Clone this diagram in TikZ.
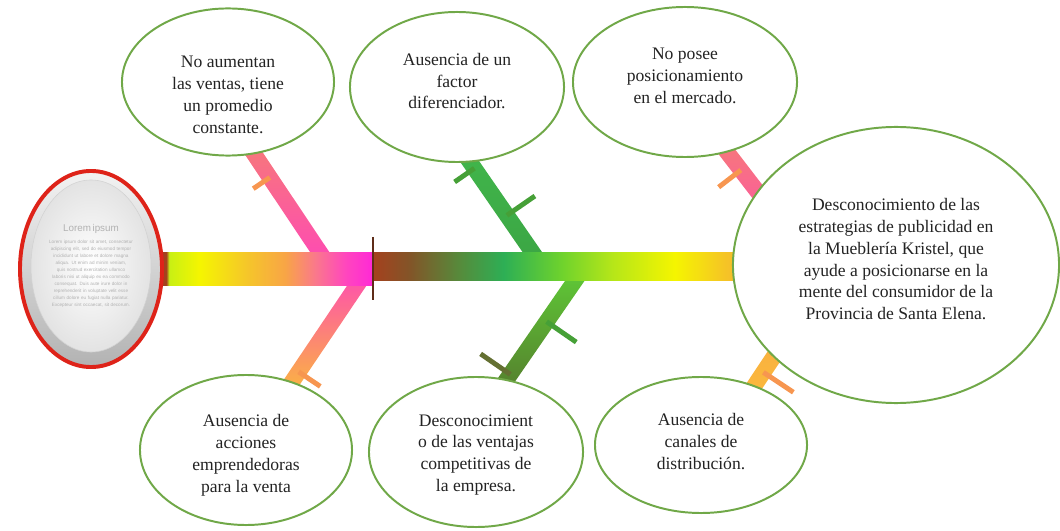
\documentclass[tikz,border=0pt]{standalone}
\usepackage{fontspec}
\setmainfont{Liberation Serif}
\newfontfamily\loremfont{Liberation Sans}
\usepackage{tikz}
\usetikzlibrary{shapes,calc,backgrounds}
\usepackage{xcolor}
\definecolor{fbgreen}{RGB}{112,168,72}
\definecolor{fbtext}{RGB}{35,35,35}
\definecolor{fbred}{RGB}{222,35,25}
\definecolor{fbsep}{RGB}{95,45,25}
\definecolor{sprust}{RGB}{165,65,30}
\definecolor{spbrown}{RGB}{130,85,40}
\definecolor{spolive}{RGB}{85,140,60}
\definecolor{spgreen}{RGB}{45,175,85}
\definecolor{splime}{RGB}{110,210,45}
\definecolor{spyellowgreen}{RGB}{180,230,25}
\definecolor{spyellow}{RGB}{245,245,0}
\definecolor{sporange}{RGB}{245,180,50}
\definecolor{splemon}{RGB}{200,240,20}
\definecolor{spamber}{RGB}{245,200,40}
\definecolor{spapricot}{RGB}{248,165,70}
\definecolor{spsalmon}{RGB}{250,120,140}
\definecolor{sppink}{RGB}{255,70,190}
\definecolor{spmagenta}{RGB}{255,40,215}
\definecolor{bonesalmon}{RGB}{246,122,120}
\definecolor{bonepink}{RGB}{255,70,185}
\definecolor{boneorange}{RGB}{250,185,60}
\definecolor{bonegreen}{RGB}{65,182,75}
\definecolor{bonelime}{RGB}{95,205,55}
\definecolor{boneolive}{RGB}{85,125,45}
\definecolor{tickorange}{RGB}{247,150,80}
\definecolor{tickgreen}{RGB}{70,160,55}
\definecolor{tickolive}{RGB}{100,112,50}
\pgfdeclarehorizontalshading{spineleft}{100bp}{color(0bp)=(sprust); color(25bp)=(sprust); color(26bp)=(sprust); color(26.7bp)=(splemon); color(33.9bp)=(spyellow); color(44.6bp)=(spamber); color(54.2bp)=(spapricot); color(61.4bp)=(spsalmon); color(68.5bp)=(sppink); color(75bp)=(spmagenta); color(100bp)=(spmagenta)}
\pgfdeclarehorizontalshading{spineright}{100bp}{color(0bp)=(sprust); color(25bp)=(sprust); color(30bp)=(spbrown); color(36.9bp)=(spolive); color(42.7bp)=(spgreen); color(50.5bp)=(splime); color(57.3bp)=(spyellowgreen); color(65.9bp)=(spyellow); color(75bp)=(sporange); color(100bp)=(sporange)}
\tikzstyle{cause} = [ellipse, draw=fbgreen, line width=1.4pt, fill=white, text=fbtext, align=center, inner sep=0pt, font=\fontsize{12.5pt}{15.6pt}\selectfont]
\tikzstyle{headring} = [ellipse, minimum width=3.55cm, minimum height=4.9cm, draw=fbred, line width=2.8pt, top color=gray!10, bottom color=gray!60]
\tikzstyle{headdisc} = [ellipse, minimum width=3cm, minimum height=4.3cm, inner sep=0pt, draw=gray!35, inner color=white, outer color=gray!22, text=gray!60, text width=2.1cm, align=center, font=\loremfont\fontsize{3.3pt}{5pt}\selectfont]
\tikzstyle{tick} = [line width=3.5pt]

\begin{document}
\begin{tikzpicture}[x=0.025cm, y=-0.025cm]
\useasboundingbox (0,0) rectangle (1060,531);

% Head
\node (head) [headring] at (91,269) {};
\node (lorem) [headdisc] at (91,266) {{\fontsize{7pt}{5pt}\selectfont Lorem ipsum}\\[3pt]
  Lorem ipsum dolor sit amet, consectetur adipiscing elit, sed do eiusmod tempor incididunt ut labore et dolore magna aliqua. Ut enim ad minim veniam, quis nostrud exercitation ullamco laboris nisi ut aliquip ex ea commodo consequat. Duis aute irure dolor in reprehenderit in voluptate velit esse cillum dolore eu fugiat nulla pariatur. Excepteur sint occaecat, sit decorum.};

% Causes
\node (c1) [cause, minimum width=5.3cm, minimum height=3.65cm] at (228,82) {\rule{0pt}{27pt}No aumentan\\las ventas, tiene\\un promedio\\constante.};
\node (c2) [cause, minimum width=5.35cm, minimum height=3.75cm] at (457,87) {Ausencia de un\\factor\\diferenciador.\rule[-8.6pt]{0pt}{8.6pt}};
\node (c3) [cause, minimum width=5.6cm, minimum height=3.75cm] at (685,82) {No posee\\posicionamiento\\en el mercado.\rule[-8.6pt]{0pt}{8.6pt}};
\node (c5) [cause, minimum width=5.3cm, minimum height=3.75cm] at (246,450) {\rule{0pt}{16.3pt}Ausencia de\\acciones\\emprendedoras\\para la venta};
\node (c6) [cause, minimum width=5.35cm, minimum height=3.75cm] at (476,452) {\rule{0pt}{12.5pt}Desconocimient\\o de las ventajas\\competitivas de\\la empresa.};
\node (c7) [cause, minimum width=5.3cm, minimum height=3.4cm] at (701,445) {Ausencia de\\canales de\\distribuci\'on.\rule[-5.7pt]{0pt}{5.7pt}};

% Effect
\node (effect) [cause, minimum width=8.15cm, minimum height=6.9cm] at (896,265) {Desconocimiento de las\\estrategias de publicidad en\\la Muebler\'ia Kristel, que\\ayude a posicionarse en la\\mente del consumidor de la\\Provincia de Santa Elena.\rule[-8.6pt]{0pt}{8.6pt}};

% Joints on the spine
\coordinate (tail) at (373,269);
\coordinate (j1) at (331,269);
\coordinate (j2) at (368,269);
\coordinate (j3) at (544,269);
\coordinate (j4) at (583,269);
\coordinate (j5) at (817,269);
\coordinate (j6) at (832,269);
\coordinate (t1) at ($(c1.-70)!-0.3cm!(j1)$);
\coordinate (t2) at ($(c5.56)!-0.3cm!(j2)$);
\coordinate (t3) at ($(c2.-80)!-0.3cm!(j3)$);
\coordinate (t4) at ($(c6.67)!-0.3cm!(j4)$);
\coordinate (t5) at ($(c3.-59)!-0.3cm!(j5)$);
\coordinate (t6) at ($(c7.48)!-0.3cm!(j6)$);

\begin{scope}[on background layer]
% Bones
\shade[top color=bonesalmon, bottom color=bonepink] ($(t1)!0.2cm!90:(j1)$) -- ($(t1)!0.2cm!-90:(j1)$) -- ($(j1)!0.2cm!90:(t1)$) -- ($(j1)!0.2cm!-90:(t1)$) -- cycle;
\shade[top color=bonepink, bottom color=boneorange] ($(t2)!0.2cm!90:(j2)$) -- ($(t2)!0.2cm!-90:(j2)$) -- ($(j2)!0.2cm!90:(t2)$) -- ($(j2)!0.2cm!-90:(t2)$) -- cycle;
\shade[top color=bonegreen, bottom color=bonegreen!90!black] ($(t3)!0.2cm!90:(j3)$) -- ($(t3)!0.2cm!-90:(j3)$) -- ($(j3)!0.2cm!90:(t3)$) -- ($(j3)!0.2cm!-90:(t3)$) -- cycle;
\shade[top color=bonelime, bottom color=boneolive] ($(t4)!0.2cm!90:(j4)$) -- ($(t4)!0.2cm!-90:(j4)$) -- ($(j4)!0.2cm!90:(t4)$) -- ($(j4)!0.2cm!-90:(t4)$) -- cycle;
\shade[top color=bonesalmon, bottom color=bonepink] ($(t5)!0.2cm!90:(j5)$) -- ($(t5)!0.2cm!-90:(j5)$) -- ($(j5)!0.2cm!90:(t5)$) -- ($(j5)!0.2cm!-90:(t5)$) -- cycle;
\shade[top color=spapricot, bottom color=boneorange] ($(t6)!0.2cm!90:(j6)$) -- ($(t6)!0.2cm!-90:(j6)$) -- ($(j6)!0.2cm!90:(t6)$) -- ($(j6)!0.2cm!-90:(t6)$) -- cycle;

% Ticks
\draw[tick, tickorange] ($(j1)!2.75cm!(t1)$) -- ($(j1)!2.75cm!(t1)!0.5cm!90:(t1)$);
\draw[tick, tickorange] ($(j2)!3.1cm!(t2)$) -- ($(j2)!3.1cm!(t2)!0.65cm!90:(t2)$);
\draw[tick, tickgreen] ($(j3)!3.06cm!(t3)$) -- ($(j3)!3.06cm!(t3)!0.6cm!90:(t3)$);
\draw[tick, tickgreen] ($(j3)!1.63cm!(t3)$) -- ($(j3)!1.63cm!(t3)!0.85cm!-90:(t3)$);
\draw[tick, tickgreen] ($(j4)!1.6cm!(t4)$) -- ($(j4)!1.6cm!(t4)!0.9cm!90:(t4)$);
\draw[tick, tickolive] ($(j4)!3.2cm!(t4)$) -- ($(j4)!3.2cm!(t4)!0.9cm!-90:(t4)$);
\draw[tick, tickorange] ($(j5)!3.12cm!(t5)$) -- ($(j5)!3.12cm!(t5)!0.7cm!90:(t5)$);
\draw[tick, tickorange] ($(j6)!3.1cm!(t6)$) -- ($(j6)!3.1cm!(t6)!0.9cm!90:(t6)$);

% Spine
\shade[shading=spineleft] ($(head.east)+(-2,-16)$) rectangle ($(tail)+(0,16)$);
\shade[shading=spineright] ($(tail)+(0,-16)$) rectangle ($(effect.west)+(10,16)$);
\draw[line width=1.6pt, fbsep] ($(tail)+(0,-32)$) -- ($(tail)+(0,31)$);
\end{scope}
\end{tikzpicture}
\end{document}
